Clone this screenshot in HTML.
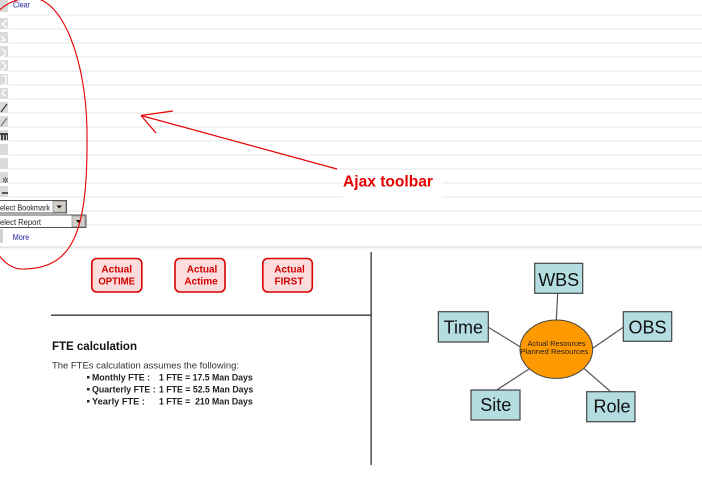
<!DOCTYPE html>
<html>
<head>
<meta charset="utf-8">
<style>
  html,body{margin:0;padding:0;background:#fff;}
  svg{display:block;}
  text{font-family:"Liberation Sans", Arial, sans-serif;}
</style>
</head>
<body>
<svg width="702" height="500" viewBox="0 0 702 500" xmlns="http://www.w3.org/2000/svg">
  <rect x="0" y="0" width="702" height="500" fill="#fff"/>

  <!-- toolbar row lines -->
  <g>
    <rect x="9" y="14.5" width="693" height="1" fill="#e4e4e4"/>
    <rect x="9" y="28.5" width="693" height="1" fill="#e4e4e4"/>
    <rect x="9" y="42.5" width="693" height="1" fill="#e4e4e4"/>
    <rect x="9" y="56.5" width="693" height="1" fill="#e4e4e4"/>
    <rect x="9" y="70.5" width="693" height="1" fill="#e4e4e4"/>
    <rect x="9" y="84.5" width="693" height="1" fill="#e4e4e4"/>
    <rect x="9" y="98.5" width="693" height="1" fill="#e4e4e4"/>
    <rect x="9" y="112.5" width="693" height="1" fill="#e4e4e4"/>
    <rect x="9" y="126.5" width="693" height="1" fill="#e4e4e4"/>
    <rect x="9" y="140.5" width="693" height="1" fill="#e4e4e4"/>
    <rect x="9" y="154.5" width="693" height="1" fill="#e4e4e4"/>
    <rect x="9" y="168.5" width="693" height="1" fill="#e4e4e4"/>
    <rect x="9" y="182.5" width="693" height="1" fill="#e4e4e4"/>
    <rect x="9" y="196.5" width="693" height="1" fill="#e4e4e4"/>
    <rect x="9" y="210.5" width="693" height="1" fill="#e4e4e4"/>
    <rect x="9" y="224.5" width="693" height="1" fill="#e4e4e4"/>
    <rect x="0" y="246.5" width="702" height="1" fill="#dcdcdc"/>
    <rect x="0" y="247.5" width="702" height="1" fill="#f0f0f0"/>
  </g>

  <!-- toolbar icon column -->
  <g fill="#dadada">
    <rect x="0" y="0" width="8" height="12"/>
    <rect x="0" y="18" width="8" height="11"/>
    <rect x="0" y="32" width="8" height="11"/>
    <rect x="0" y="46" width="8" height="11"/>
    <rect x="0" y="60" width="8" height="11"/>
    <rect x="0" y="74" width="8" height="11"/>
    <rect x="0" y="88" width="8" height="11"/>
    <rect x="0" y="102" width="8" height="11"/>
    <rect x="0" y="116" width="8" height="11"/>
    <rect x="0" y="130" width="8" height="11"/>
    <rect x="0" y="144" width="8" height="11"/>
    <rect x="0" y="158" width="8" height="11"/>
    <rect x="0" y="172" width="8" height="11"/>
    <rect x="0" y="186" width="8" height="11"/>
    <rect x="0" y="229" width="3" height="14" fill="#d0d0d0"/>
  </g>
  <g stroke="#fff" stroke-width="1.3" fill="none">
    <path d="M7,20 L2,24 L7,28"/>
    <path d="M1,36 L5,40 L1,41"/>
    <path d="M1,49 Q6,50 5,54 Q4,57 1,57"/>
    <path d="M1,62 Q6,63 5,67 Q4,70 1,70"/>
    <path d="M2,76 L6,76 L6,84 L2,84"/>
    <path d="M6,90 Q2,90 2,94 L6,96"/>
  </g>
  <g stroke="#333" stroke-width="1.2" fill="none">
    <path d="M1,112 L7,104"/>
  </g>
  <g stroke="#777" stroke-width="1.2" fill="none">
    <path d="M1,126 L7,118"/>
  </g>
  <g fill="#444">
    <rect x="0" y="133" width="8" height="2"/>
    <rect x="1" y="135" width="2" height="5"/>
    <rect x="4" y="135" width="2" height="5"/>
    <rect x="7" y="135" width="1" height="5"/>
  </g>
  <text x="2" y="183" font-size="8" fill="#444">✲</text>
  <rect x="2" y="192" width="6" height="2" fill="#555"/>

  <!-- Clear -->
  <text x="13" y="7.5" font-size="8.5" fill="#1a1a9a" textLength="17" lengthAdjust="spacingAndGlyphs">Clear</text>

  <!-- Select Bookmark -->
  <rect x="-1" y="200.5" width="67.5" height="12.5" fill="#fff" stroke="#555" stroke-width="1"/>
  <rect x="53" y="201.5" width="12.5" height="10.5" fill="#d4d0c8" stroke="#999" stroke-width="0.8"/>
  <path d="M56.5,205.5 L62,205.5 L59.25,208.5 Z" fill="#111"/>
  <text x="0" y="210.5" font-size="8.5" fill="#222" textLength="50" lengthAdjust="spacingAndGlyphs">elect Bookmark</text>

  <!-- Select Report -->
  <rect x="-1" y="215" width="87" height="12.5" fill="#fff" stroke="#555" stroke-width="1"/>
  <rect x="72" y="216" width="13" height="10.5" fill="#d4d0c8" stroke="#999" stroke-width="0.8"/>
  <path d="M75.8,220 L81.2,220 L78.5,223 Z" fill="#111"/>
  <text x="0" y="225" font-size="8.5" fill="#222" textLength="41" lengthAdjust="spacingAndGlyphs">elect Report</text>

  <!-- More -->
  <text x="12.7" y="240" font-size="8.5" fill="#1a1a9a" textLength="16.5" lengthAdjust="spacingAndGlyphs">More</text>

  <!-- red ellipse -->
  <path d="M-30,130 C-30,30 -5,-2 32,-2 C62,-2 87,60 87,135 C88,235 72,269 22,269 C-10,269 -30,200 -30,130 Z" fill="none" stroke="#e60000" stroke-width="1.1"/>

  <!-- Ajax toolbar label -->
  <rect x="343" y="171" width="99" height="28" fill="#fff"/>
  <text x="343" y="186.5" font-size="16" font-weight="bold" fill="#e60000" textLength="90" lengthAdjust="spacingAndGlyphs">Ajax toolbar</text>

  <!-- arrow -->
  <g stroke="#e60000" stroke-width="1.2" fill="none">
    <path d="M337,169 L141,115.5"/>
    <path d="M141,115.5 L173,111"/>
    <path d="M141,115.5 L156,133"/>
  </g>

  <!-- buttons -->
  <g fill="#fcdcdc" stroke="#d80000" stroke-width="1.6">
    <rect x="91.8" y="258.5" width="50" height="33.5" rx="5"/>
    <rect x="175" y="258.5" width="50" height="33.5" rx="5"/>
    <rect x="262.8" y="258.5" width="49.5" height="33.5" rx="5"/>
  </g>
  <g font-size="10" font-weight="bold" fill="#d00000" text-anchor="middle">
    <text x="116.7" y="272.5">Actual</text>
    <text x="116.7" y="284.5" textLength="36.7" lengthAdjust="spacingAndGlyphs">OPTIME</text>
    <text x="202" y="272.5">Actual</text>
    <text x="201" y="284.5">Actime</text>
    <text x="289.5" y="272.5">Actual</text>
    <text x="289" y="284.5">FIRST</text>
  </g>

  <!-- dividers -->
  <rect x="370.5" y="252" width="1.3" height="213" fill="#333"/>
  <rect x="51" y="314.5" width="320" height="1.4" fill="#3a3a3a"/>

  <!-- FTE calculation -->
  <text x="52" y="350" font-size="11.5" font-weight="bold" fill="#111" textLength="85" lengthAdjust="spacingAndGlyphs">FTE calculation</text>
  <text x="52" y="368.7" font-size="9.5" fill="#333" textLength="187" lengthAdjust="spacingAndGlyphs">The FTEs calculation assumes the following:</text>

  <g fill="#222">
    <rect x="87" y="376" width="2.5" height="2.5"/>
    <rect x="87" y="388" width="2.5" height="2.5"/>
    <rect x="87" y="400" width="2.5" height="2.5"/>
  </g>
  <g font-size="9.5" font-weight="bold" fill="#222">
    <text x="92" y="380.5" textLength="58" lengthAdjust="spacingAndGlyphs">Monthly FTE :</text>
    <text x="159" y="380.5" textLength="93.7" lengthAdjust="spacingAndGlyphs">1 FTE = 17.5 Man Days</text>
    <text x="92" y="392.5" textLength="63.7" lengthAdjust="spacingAndGlyphs">Quarterly FTE :</text>
    <text x="159" y="392.5" textLength="94.3" lengthAdjust="spacingAndGlyphs">1 FTE = 52.5 Man Days</text>
    <text x="92" y="404.5" textLength="53" lengthAdjust="spacingAndGlyphs">Yearly FTE :</text>
    <text x="159" y="404.5" textLength="93.7" lengthAdjust="spacingAndGlyphs" xml:space="preserve">1 FTE =  210 Man Days</text>
  </g>

  <!-- diagram connectors -->
  <g stroke="#555" stroke-width="1.2">
    <line x1="557.7" y1="293" x2="556.3" y2="320.7"/>
    <line x1="488.3" y1="327.3" x2="520" y2="346.7"/>
    <line x1="623.3" y1="327.3" x2="592.7" y2="348.3"/>
    <line x1="496.7" y1="390" x2="531.7" y2="367.3"/>
    <line x1="610.7" y1="391.7" x2="582.7" y2="367.3"/>
  </g>

  <!-- central ellipse -->
  <ellipse cx="556.3" cy="349.2" rx="36.3" ry="29.2" fill="#ff9900" stroke="#444" stroke-width="1"/>
  <g font-size="7.4" fill="#222" text-anchor="middle">
    <text x="556.5" y="346" textLength="58" lengthAdjust="spacingAndGlyphs">Actual Resources</text>
    <text x="554.2" y="354.2" textLength="68" lengthAdjust="spacingAndGlyphs">Planned Resources</text>
  </g>

  <!-- boxes -->
  <g fill="#b4dde2" stroke="#444" stroke-width="1.2">
    <rect x="534.7" y="263.3" width="48" height="30"/>
    <rect x="438.3" y="311.7" width="50" height="30.3"/>
    <rect x="623.3" y="311.7" width="48.4" height="29.6"/>
    <rect x="471" y="390" width="49" height="30"/>
    <rect x="586.7" y="391.7" width="48.3" height="30"/>
  </g>
  <g font-size="18" fill="#111" text-anchor="middle">
    <text x="558.7" y="286">WBS</text>
    <text x="463.3" y="333.3">Time</text>
    <text x="647.5" y="333.3">OBS</text>
    <text x="495.8" y="411">Site</text>
    <text x="612" y="412.3">Role</text>
  </g>
</svg>
</body>
</html>
